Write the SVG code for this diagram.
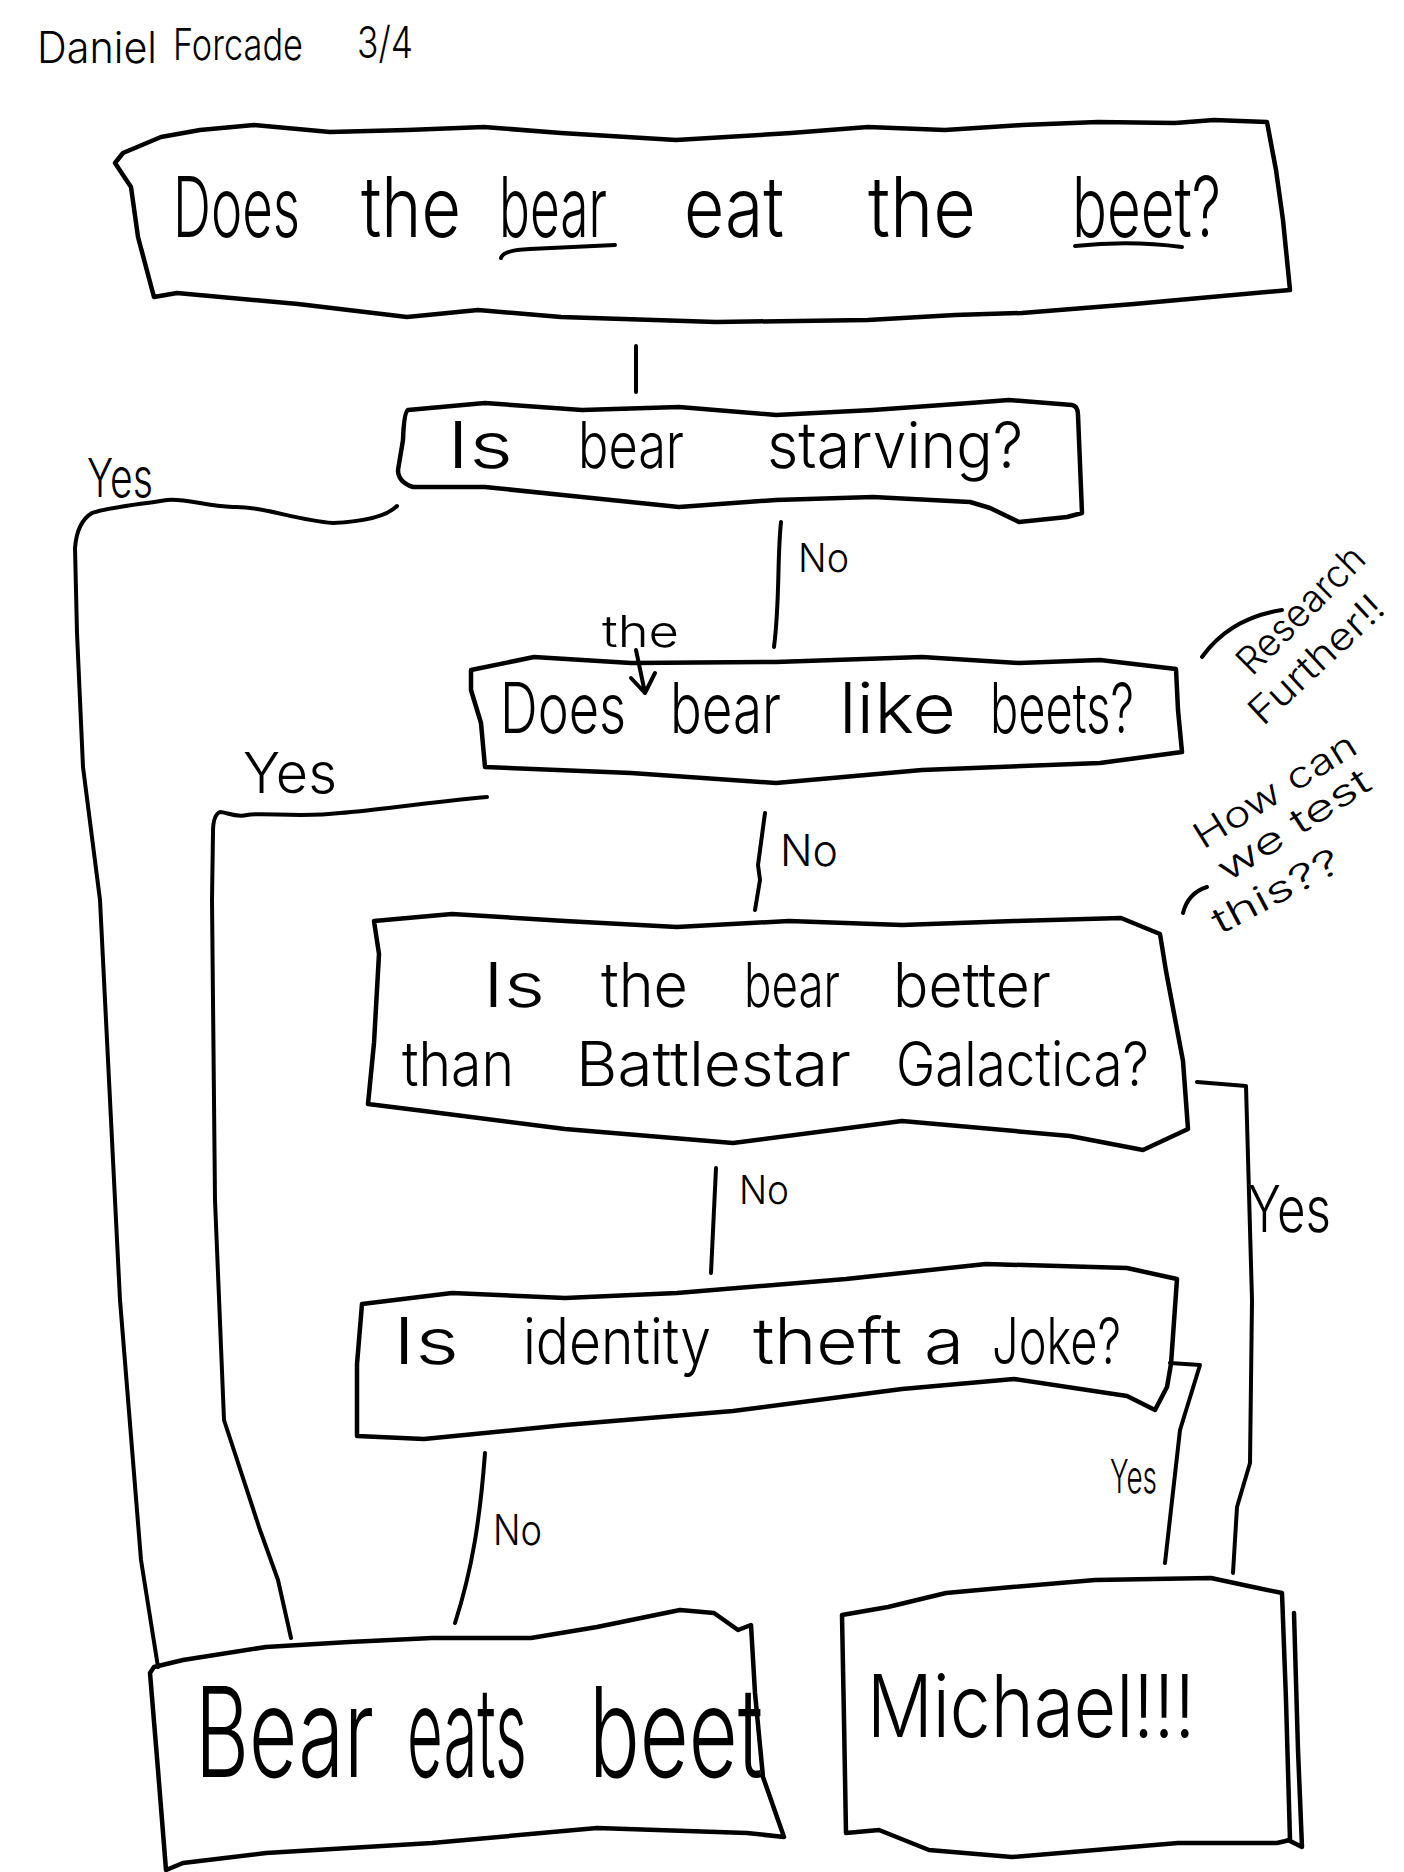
<svg xmlns="http://www.w3.org/2000/svg" width="1404" height="1872" viewBox="0 0 1404 1872">
<style>
.bx{fill:none;stroke:#000;stroke-width:4.5;stroke-linejoin:round;stroke-linecap:round}
.ln{fill:none;stroke:#000;stroke-width:4;stroke-linejoin:round;stroke-linecap:round}
text{font-family:Inter,"Liberation Sans",sans-serif;font-weight:300;fill:#000}
</style>
<rect width="1404" height="1872" fill="#fff"/>
<g id="header">
<text y="63" font-size="44"><tspan x="37" textLength="120" lengthAdjust="spacingAndGlyphs">Daniel</tspan><tspan x="173" y="60" textLength="130" lengthAdjust="spacingAndGlyphs">Forcade</tspan><tspan x="357" y="58" textLength="56" lengthAdjust="spacingAndGlyphs">3/4</tspan></text>
</g>
<g id="connectors">
<path class="ln" d="M636,346 L636,392"/>
<path class="ln" d="M397,506 C385,518 355,522 333,523 C295,520 262,506 233,507 C205,506 185,498 167,500 C135,505 105,508 92,513 Q77,522 75,548 L77,633 L83,767 L100,900 L120,1300 L141,1560 L158,1667"/>
<path class="ln" d="M487,797 C420,803 380,810 340,813 C300,818 262,812 247,815 C236,818 226,812 220,812 Q213,815 213,832 L212,900 L215,1200 L224,1420 L260,1530 L278,1580 L291,1638"/>
<path class="ln" d="M781,522 C777,560 780,600 774,647"/>
<path class="ln" d="M765,813 L758,865 L760,880 L755,910"/>
<path class="ln" d="M716,1168 L711,1273"/>
<path class="ln" d="M485,1453 C480,1520 472,1570 455,1623"/>
<path class="ln" d="M1197,1082 L1246,1086 L1252,1300 L1250,1463 L1237,1507 L1233,1573"/>
<path class="ln" d="M1170,1363 L1200,1365 L1180,1430 L1165,1563"/>
</g>
<g id="labels">
<text x="87" y="497" font-size="54" textLength="66" lengthAdjust="spacingAndGlyphs">Yes</text>
<text x="243" y="793" font-size="56" textLength="94" lengthAdjust="spacingAndGlyphs">Yes</text>
<text x="1248" y="1232" font-size="64" textLength="83" lengthAdjust="spacingAndGlyphs">Yes</text>
<text x="1110" y="1493" font-size="46" textLength="47" lengthAdjust="spacingAndGlyphs">Yes</text>
<text x="798" y="572" font-size="40" textLength="51" lengthAdjust="spacingAndGlyphs">No</text>
<text x="780" y="866" font-size="44" textLength="58" lengthAdjust="spacingAndGlyphs">No</text>
<text x="739" y="1204" font-size="40" textLength="50" lengthAdjust="spacingAndGlyphs">No</text>
<text x="493" y="1545" font-size="42" textLength="49" lengthAdjust="spacingAndGlyphs">No</text>
</g>
<g id="n1">
<path class="bx" d="M123,153 L161,137 L200,130 L254,125 L330,132 L407,130 L484,127 L561,133 L676,140 L791,133 L868,127 L945,130 L1022,125 L1098,122 L1175,123 L1214,120 L1267,122 L1276,170 L1283,220 L1290,290 L1200,298 L1134,304 L1022,313 L955,315 L868,320 L716,322 L561,317 L478,310 L407,317 L298,304 L177,293 L154,297 L138,237 L131,187 L115,163 Z"/>
<text transform="translate(0,237) scale(1,1.4)" font-size="60"><tspan x="173" y="0" textLength="127" lengthAdjust="spacingAndGlyphs">Does</tspan><tspan x="361" y="0" textLength="100" lengthAdjust="spacingAndGlyphs">the</tspan><tspan x="499" y="0" textLength="108" lengthAdjust="spacingAndGlyphs">bear</tspan><tspan x="684" y="0" textLength="100" lengthAdjust="spacingAndGlyphs">eat</tspan><tspan x="868" y="0" textLength="108" lengthAdjust="spacingAndGlyphs">the</tspan><tspan x="1072" y="0" textLength="149" lengthAdjust="spacingAndGlyphs">beet?</tspan></text>
<path class="ln" d="M501,258 Q503,250 530,249 L615,245"/>
<path class="ln" d="M1075,246 Q1130,240 1182,247"/>
</g>
<g id="n2">
<path class="bx" d="M408,410 L485,403 L582,410 L679,407 L776,415 L873,410 L970,403 L1009,400 L1072,405 Q1078,406 1078,415 L1082,513 L1067,517 L1019,522 L990,508 L970,502 L873,497 L776,500 L679,507 L582,497 L485,487 L413,487 Q398,482 398,470 L403,440 Q404,412 408,410 Z"/>
<text y="468" font-size="64"><tspan x="447" textLength="66" lengthAdjust="spacingAndGlyphs">Is</tspan><tspan x="578" textLength="106" lengthAdjust="spacingAndGlyphs">bear</tspan><tspan x="767" textLength="256" lengthAdjust="spacingAndGlyphs">starving?</tspan></text>
</g>
<g id="n3">
<path class="bx" d="M471,670 L534,657 L631,663 L776,662 L922,657 L1019,663 L1100,660 L1176,669 L1178,710 L1182,752 L1100,763 L922,770 L776,783 L631,773 L485,767 L481,723 L471,690 Z"/>
<text y="733" font-size="70"><tspan x="500" textLength="126" lengthAdjust="spacingAndGlyphs">Does</tspan><tspan x="670" textLength="111" lengthAdjust="spacingAndGlyphs">bear</tspan><tspan x="839" textLength="117" lengthAdjust="spacingAndGlyphs">like</tspan><tspan x="990" textLength="144" lengthAdjust="spacingAndGlyphs">beets?</tspan></text>
<text x="602" y="647" font-size="44" textLength="77" lengthAdjust="spacingAndGlyphs">the</text>
<path class="ln" d="M636,650 L645,693 M631,678 L645,693 L655,673"/>
</g>
<g id="n4">
<path class="bx" d="M374,921 L452,914 L565,921 L677,927 L789,921 L902,925 L1014,921 L1121,918 L1160,934 L1166,971 L1183,1061 L1188,1129 L1143,1150 L1070,1136 L902,1121 L733,1143 L565,1129 L424,1111 L368,1104 L374,1043 L379,954 Z"/>
<text y="1007" font-size="62"><tspan x="483" textLength="62" lengthAdjust="spacingAndGlyphs">Is</tspan><tspan x="601" textLength="87" lengthAdjust="spacingAndGlyphs">the</tspan><tspan x="744" textLength="96" lengthAdjust="spacingAndGlyphs">bear</tspan><tspan x="893" textLength="158" lengthAdjust="spacingAndGlyphs">better</tspan></text>
<text y="1086" font-size="62"><tspan x="402" textLength="112" lengthAdjust="spacingAndGlyphs">than</tspan><tspan x="576" textLength="275" lengthAdjust="spacingAndGlyphs">Battlestar</tspan><tspan x="896" textLength="253" lengthAdjust="spacingAndGlyphs">Galactica?</tspan></text>
</g>
<g id="n5">
<path class="bx" d="M362,1304 L452,1293 L565,1298 L677,1293 L846,1279 L986,1264 L1127,1268 L1177,1279 L1171,1364 L1167,1387 L1155,1410 L1127,1396 L1014,1379 L902,1389 L733,1411 L565,1425 L424,1439 L357,1436 L357,1364 Z"/>
<text y="1364" font-size="64"><tspan x="393" textLength="66" lengthAdjust="spacingAndGlyphs">Is</tspan><tspan x="523" textLength="188" lengthAdjust="spacingAndGlyphs">identity</tspan><tspan x="753" textLength="149" lengthAdjust="spacingAndGlyphs">theft</tspan><tspan x="924" textLength="40" lengthAdjust="spacingAndGlyphs">a</tspan><tspan x="992" textLength="129" lengthAdjust="spacingAndGlyphs">Joke?</tspan></text>
</g>
<g id="n6">
<path class="bx" d="M154,1667 L183,1660 L266,1647 L349,1642 L432,1638 L531,1638 L597,1627 L680,1610 L714,1613 L738,1630 L751,1625 L755,1693 L763,1777 L784,1837 L747,1833 L597,1828 L432,1843 L266,1853 L183,1863 L166,1870 L158,1770 L150,1673 Z"/>
<text transform="translate(0,1777) scale(1,1.5625)" font-size="80"><tspan x="195" y="0" textLength="179" lengthAdjust="spacingAndGlyphs">Bear</tspan><tspan x="407" y="0" textLength="120" lengthAdjust="spacingAndGlyphs">eats</tspan><tspan x="589" y="0" textLength="174" lengthAdjust="spacingAndGlyphs">beet</tspan></text>
</g>
<g id="n7">
<path class="bx" d="M842,1615 L888,1607 L946,1593 L1012,1587 L1095,1580 L1211,1578 L1253,1587 L1282,1593 L1286,1700 L1290,1840 L1277,1843 L1178,1843 L1012,1857 L929,1850 L879,1830 L846,1833 L844,1720 Z"/>
<path class="bx" d="M1294,1613 L1298,1750 L1302,1847 L1288,1840"/>
<text x="867" y="1737" font-size="86" textLength="328" lengthAdjust="spacingAndGlyphs">Michael!!!</text>
</g>
<g id="notes">
<path class="ln" d="M1202,657 Q1230,618 1282,610"/>
<text transform="translate(1252,677) rotate(-45)" font-size="38" textLength="164" lengthAdjust="spacingAndGlyphs">Research</text>
<text transform="translate(1263,727) rotate(-43)" font-size="38" textLength="170" lengthAdjust="spacingAndGlyphs">Further!!</text>
<text transform="translate(1203,850) rotate(-32)" font-size="36" textLength="185" lengthAdjust="spacingAndGlyphs">How can</text>
<text transform="translate(1227,883) rotate(-33)" font-size="36" textLength="175" lengthAdjust="spacingAndGlyphs">we test</text>
<text transform="translate(1220,935) rotate(-28)" font-size="36" textLength="140" lengthAdjust="spacingAndGlyphs">this??</text>
<path class="ln" d="M1183,913 Q1188,893 1207,887"/>
</g>
</svg>
